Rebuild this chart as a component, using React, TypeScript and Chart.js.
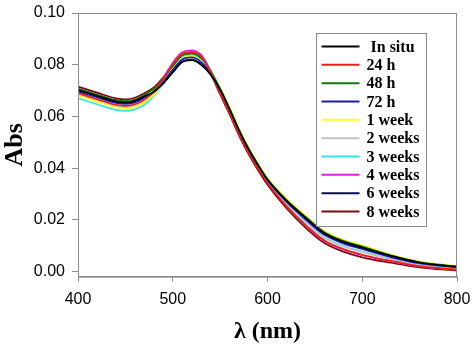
import { useEffect, useRef } from "react";
import { Chart, registerables } from "chart.js";

Chart.register(...registerables);

// Wavelength grid (nm) on which the absorbance spectra are sampled
const WAVELENGTHS = [400, 420, 440, 450, 460, 470, 480, 490, 500, 510, 520, 530, 540, 550, 560, 570, 580, 590, 600, 620, 640, 660, 680, 700, 730, 760, 800];

// Absorbance of the gold colloid measured at each ageing time
const IN_SITU = [0.0703, 0.068, 0.0658, 0.0654, 0.066, 0.0678, 0.0695, 0.0728, 0.077, 0.081, 0.0818, 0.08, 0.0762, 0.0704, 0.0627, 0.0545, 0.0473, 0.0411, 0.0355, 0.0274, 0.0208, 0.0148, 0.0115, 0.0093, 0.0061, 0.0035, 0.0018];
const H24 = [0.069, 0.0667, 0.0645, 0.0641, 0.0647, 0.0665, 0.0697, 0.0745, 0.0802, 0.0842, 0.085, 0.0832, 0.0771, 0.0691, 0.0614, 0.0532, 0.046, 0.0398, 0.0342, 0.0253, 0.018, 0.012, 0.0087, 0.0065, 0.0041, 0.0021, 0.0007];
const H48 = [0.0708, 0.0685, 0.0663, 0.0659, 0.0665, 0.0683, 0.0707, 0.0746, 0.0795, 0.0835, 0.0843, 0.0825, 0.0776, 0.0707, 0.063, 0.0548, 0.0476, 0.0414, 0.0358, 0.0277, 0.0212, 0.0152, 0.0119, 0.0097, 0.0063, 0.0037, 0.002];
const H72 = [0.0697, 0.0674, 0.0652, 0.0648, 0.0654, 0.0672, 0.0694, 0.0733, 0.078, 0.082, 0.0828, 0.081, 0.0766, 0.0702, 0.0625, 0.0543, 0.0471, 0.0409, 0.0353, 0.027, 0.0202, 0.0142, 0.0109, 0.0087, 0.0056, 0.0032, 0.0016];
const WEEK1 = [0.068, 0.0657, 0.0635, 0.0631, 0.0637, 0.0655, 0.0684, 0.073, 0.0784, 0.0824, 0.0832, 0.0814, 0.0772, 0.0711, 0.0634, 0.0552, 0.048, 0.0418, 0.0362, 0.0281, 0.0216, 0.0156, 0.0123, 0.0101, 0.0066, 0.0039, 0.0021];
const WEEK2 = [0.0685, 0.0662, 0.064, 0.0636, 0.0642, 0.066, 0.0691, 0.0739, 0.0795, 0.0835, 0.0843, 0.0825, 0.077, 0.0696, 0.0619, 0.0537, 0.0465, 0.0403, 0.0347, 0.026, 0.019, 0.013, 0.0097, 0.0075, 0.0048, 0.0026, 0.0011];
const WEEK3 = [0.067, 0.0647, 0.0625, 0.0621, 0.0627, 0.0645, 0.0679, 0.0728, 0.0787, 0.0827, 0.0835, 0.0817, 0.0768, 0.0699, 0.0622, 0.054, 0.0468, 0.0406, 0.035, 0.0263, 0.0192, 0.0132, 0.0099, 0.0077, 0.0049, 0.0027, 0.0012];
const WEEK4 = [0.0687, 0.0664, 0.0642, 0.0638, 0.0644, 0.0662, 0.0697, 0.0748, 0.0808, 0.0848, 0.0856, 0.0838, 0.0775, 0.0693, 0.0616, 0.0534, 0.0462, 0.04, 0.0344, 0.0253, 0.0178, 0.0118, 0.0085, 0.0063, 0.004, 0.002, 0.0006];
const WEEK6 = [0.07, 0.0677, 0.0655, 0.0651, 0.0657, 0.0675, 0.0694, 0.0728, 0.0772, 0.0812, 0.082, 0.0802, 0.0761, 0.0701, 0.0624, 0.0542, 0.047, 0.0408, 0.0352, 0.0271, 0.0205, 0.0145, 0.0112, 0.009, 0.0059, 0.0034, 0.0017];
const WEEK8 = [0.0715, 0.0692, 0.067, 0.0666, 0.0672, 0.069, 0.0712, 0.0751, 0.0798, 0.0838, 0.0846, 0.0828, 0.0766, 0.0685, 0.0608, 0.0526, 0.0454, 0.0392, 0.0336, 0.0245, 0.017, 0.011, 0.0077, 0.0055, 0.0034, 0.0016, 0.0003];

const SERIES = [IN_SITU, H24, H48, H72, WEEK1, WEEK2, WEEK3, WEEK4, WEEK6, WEEK8];
const SERIES_LABELS = [" In situ", "24 h", "48 h", "72 h", "1 week", "2 weeks", "3 weeks", "4 weeks", "6 weeks", "8 weeks"];
const SERIES_COLORS = ["#000000", "#ee1c1c", "#107a10", "#1a1ab8", "#ffff20", "#c4c4c4", "#30e6e6", "#d22ad2", "#0a0a60", "#7a0a0a"];

const X_TICKS = [400, 500, 600, 700, 800];
const Y_TICKS = [0, 0.02, 0.04, 0.06, 0.08, 0.1];

const AXIS_GRAY = "#8c8c8c";
const SERIF = "'Liberation Serif', 'Times New Roman', serif";
const SANS = "'Liberation Sans', Arial, sans-serif";

// Full box around the plot plus the boxed legend in the upper right
const framePlugin = {
  id: "frameAndLegend",
  afterDatasetsDraw(chart: any) {
    const { ctx, chartArea } = chart;
    ctx.save();
    ctx.strokeStyle = AXIS_GRAY;
    ctx.lineWidth = 1;
    ctx.strokeRect(chartArea.left + 0.5, chartArea.top + 0.5, chartArea.right - chartArea.left - 1, chartArea.bottom - chartArea.top);

    const boxLeft = chartArea.left + 238;
    const boxTop = chartArea.top + 20.5;
    const boxW = 110;
    const boxH = 193;
    ctx.fillStyle = "#ffffff";
    ctx.fillRect(boxLeft, boxTop, boxW, boxH);
    ctx.strokeStyle = "#8a8a8a";
    ctx.strokeRect(boxLeft + 0.5, boxTop, boxW, boxH);

    const rowH = 18.33;
    ctx.font = `bold 16px ${SERIF}`;
    ctx.textBaseline = "middle";
    ctx.textAlign = "left";
    chart.data.datasets.forEach((ds: any, i: number) => {
      const y = boxTop + 13 + i * rowH;
      ctx.strokeStyle = ds.borderColor;
      ctx.lineWidth = 2;
      ctx.beginPath();
      ctx.moveTo(boxLeft + 5.5, y);
      ctx.lineTo(boxLeft + 43.5, y);
      ctx.stroke();
      ctx.fillStyle = "#000";
      ctx.fillText(ds.label, boxLeft + 50.5, y + 1);
    });
    ctx.restore();
  },
};

export default function App() {
  const canvasRef = useRef<HTMLCanvasElement | null>(null);

  useEffect(() => {
    if (!canvasRef.current) return;
    const chart = new Chart(canvasRef.current, {
      type: "line",
      data: {
        datasets: SERIES.map((values, i) => ({
          label: SERIES_LABELS[i],
          data: WAVELENGTHS.map((w, j) => ({ x: w, y: values[j] })),
          borderColor: SERIES_COLORS[i],
          backgroundColor: SERIES_COLORS[i],
          borderWidth: 1.7,
          pointRadius: 0,
          cubicInterpolationMode: "monotone" as const,
          fill: false,
        })),
      },
      options: {
        animation: false,
        responsive: false,
        layout: { padding: { top: 13, right: 17, left: 0, bottom: 0 } },
        plugins: { legend: { display: false }, tooltip: { enabled: false } },
        scales: {
          x: {
            type: "linear",
            min: 400,
            max: 800,
            afterBuildTicks: (scale: any) => {
              scale.ticks = X_TICKS.map((v) => ({ value: v }));
            },
            afterFit: (scale: any) => {
              scale.height = 69.3;
              scale.paddingLeft = 0;
              scale.paddingRight = 0;
            },
            ticks: { color: "#000", font: { family: SANS, size: 16 }, padding: 8, maxRotation: 0 },
            grid: { drawOnChartArea: false, drawTicks: true, tickLength: 5, color: AXIS_GRAY },
            border: { color: AXIS_GRAY, width: 1 },
            title: {
              display: true,
              text: "λ (nm)",
              color: "#000",
              font: { family: SERIF, size: 24, weight: "bold", lineHeight: 1.15 },
              padding: { top: 0, bottom: 0 },
            },
          },
          y: {
            type: "linear",
            min: -0.002,
            max: 0.1,
            afterBuildTicks: (scale: any) => {
              scale.ticks = Y_TICKS.map((v) => ({ value: v }));
            },
            afterFit: (scale: any) => {
              scale.width = 78;
              scale.paddingTop = 0;
              scale.paddingBottom = 0;
            },
            ticks: {
              color: "#000",
              font: { family: SANS, size: 16 },
              padding: 7,
              callback: (v: any) => Number(v).toFixed(2),
            },
            grid: { drawOnChartArea: false, drawTicks: true, tickLength: 6, color: AXIS_GRAY },
            border: { color: AXIS_GRAY, width: 1 },
            title: {
              display: true,
              text: "Abs",
              color: "#000",
              font: { family: SERIF, size: 26, weight: "bold" },
              padding: { top: 0, bottom: 0 },
            },
          },
        },
      },
      plugins: [framePlugin],
    });
    return () => chart.destroy();
  }, []);

  return (
    <div style={{ position: "absolute", left: 0, top: 0, width: 474, height: 346, background: "#fff" }}>
      <canvas ref={canvasRef} width={474} height={346} />
    </div>
  );
}
